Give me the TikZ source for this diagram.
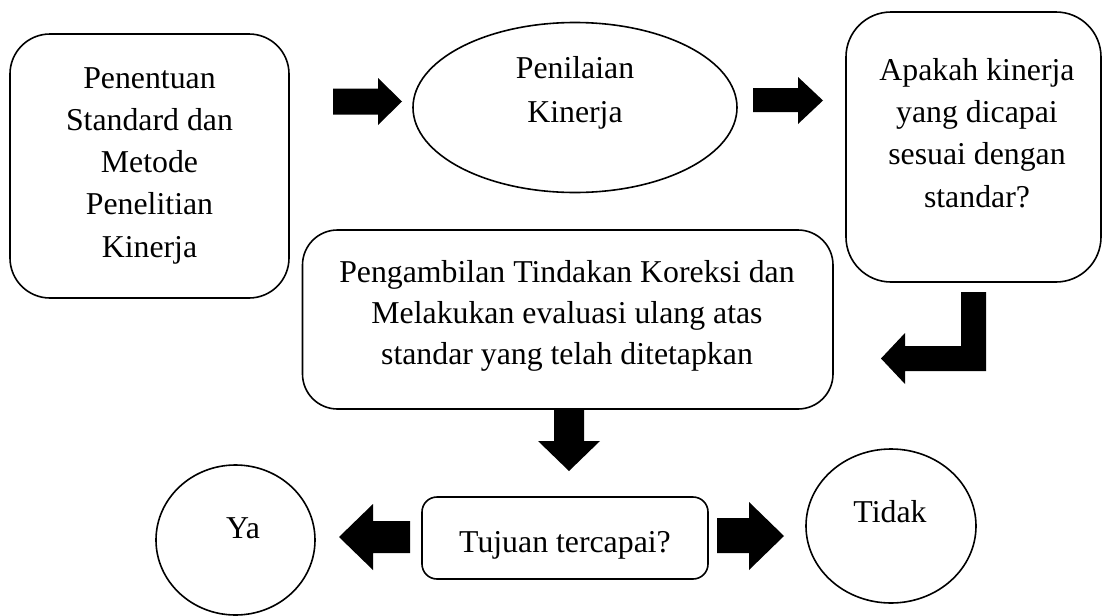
\documentclass[tikz,border=0pt]{standalone}
\usepackage{fontspec}
\setmainfont{Liberation Serif}
\usetikzlibrary{shapes.geometric}
\begin{document}
\begin{tikzpicture}[x=1pt,y=-1pt,
  shapeline/.style={draw=black, line width=1.6pt, inner sep=0pt, fill=white},
  rbox/.style={shapeline, rectangle},
  oval/.style={shapeline, ellipse},
  txt/.style={inner sep=0pt, align=center, font=\fontsize{31.8}{42.3}\selectfont},
  blockarrow/.style={fill=black, draw=none}
]
\useasboundingbox (0,0) rectangle (1104,616);

% shapes
\node[rbox, rounded corners=40pt, minimum width=279pt, minimum height=264pt] (std) at (149.5,166) {};
\node[oval, minimum width=324pt, minimum height=170pt] (nilai) at (575,107.5) {};
\node[rbox, rounded corners=45pt, minimum width=255pt, minimum height=270pt] (apakah) at (973.5,147) {};
\node[rbox, rounded corners=35pt, minimum width=530.5pt, minimum height=179pt] (koreksi) at (567.75,319.5) {};
\node[rbox, rounded corners=15pt, minimum width=286pt, minimum height=82pt] (tujuan) at (565,538) {};
\node[oval, minimum width=159pt, minimum height=150pt] (ya) at (235.5,540) {};
\node[oval, minimum width=170pt, minimum height=154pt] (tidak) at (891,526) {};

% texts
\node[txt, anchor=north] (stdT) at (149.5,67) {Penentuan\\Standard dan\\Metode\\Penelitian\\Kinerja};
\node[txt, anchor=north, font=\fontsize{31.8}{44}\selectfont] (nilaiT) at (575,56) {Penilaian\\Kinerja};
\node[txt, anchor=north] (apakahT) at (977,58) {Apakah kinerja\\yang dicapai\\sesuai dengan\\standar?};
\node[txt, anchor=north, font=\fontsize{31.8}{40.8}\selectfont] (koreksiT) at (567,260.5) {Pengambilan Tindakan Koreksi dan\\Melakukan evaluasi ulang atas\\standar yang telah ditetapkan};
\node[txt, anchor=base] (tujuanT) at (565,552) {Tujuan tercapai?};
\node[txt, anchor=base] (yaT) at (243,538) {Ya};
\node[txt, anchor=base] (tidakT) at (890,522) {Tidak};

% block arrows
\fill[blockarrow] (333,88.5) -- (378,88.5) -- (378,78) -- (402,101.5) -- (378,125) -- (378,114.5) -- (333,114.5) -- cycle;
\fill[blockarrow] (753,88) -- (798,88) -- (798,77) -- (823,100.5) -- (798,124) -- (798,112) -- (753,112) -- cycle;
\fill[blockarrow] (961,292) -- (986,292) -- (986,371) -- (905,371) -- (905,384) -- (881,358.5) -- (905,333) -- (905,346) -- (961,346) -- cycle;
\fill[blockarrow] (554,409) -- (584,409) -- (584,441) -- (600,441) -- (569,471) -- (538,441) -- (554,441) -- cycle;
\fill[blockarrow] (410,521) -- (410,553) -- (373,553) -- (373,570) -- (339,537) -- (373,504) -- (373,521) -- cycle;
\fill[blockarrow] (717,518) -- (749,518) -- (749,502) -- (784,536) -- (749,570) -- (749,553) -- (717,553) -- cycle;
\end{tikzpicture}
\end{document}
